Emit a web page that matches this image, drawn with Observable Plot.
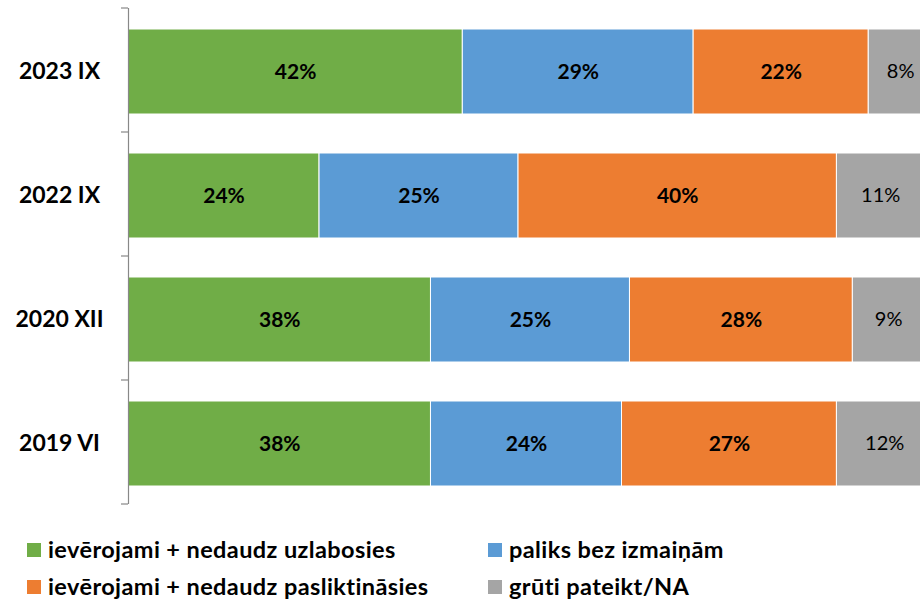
<!DOCTYPE html>
<html>
<head>
<meta charset="utf-8">
<script src="https://cdn.jsdelivr.net/npm/d3@7"></script>
<script src="https://cdn.jsdelivr.net/npm/@observablehq/plot@0.6"></script>
<style>
  body { margin: 0; background: #fff; font-family: Lato, "Open Sans", sans-serif; }
  #wrap { width: 920px; }
  #wrap svg { display: block; }
  .legend { display: grid; grid-template-columns: 461px 300px; padding: 23px 0 0 27px; row-gap: 9px; }
  .item { display: flex; align-items: center; height: 28px; line-height: 28px; font-size: 23.5px; font-weight: 700; letter-spacing: 0.4px; color: #000; white-space: nowrap; }
  .sw { width: 14px; height: 14px; margin-right: 7px; flex: none; position: relative; top: 1px; }
</style>
</head>
<body>
<div id="wrap"></div>
<script>
const periods = ["2023 IX", "2022 IX", "2020 XII", "2019 VI"];
const seriesNames = [
  "ievērojami + nedaudz uzlabosies",
  "paliks bez izmaiņām",
  "ievērojami + nedaudz pasliktināsies",
  "grūti pateikt/NA"
];
const colors = ["#70AD47", "#5B9BD5", "#ED7D31", "#A5A5A5"];
const improve = [42, 24, 38, 38];
const same = [29, 25, 25, 24];
const worse = [22, 40, 28, 27];
const hard = [8, 11, 9, 12];
const legendOrder = [0, 1, 2, 3];

const seriesValues = [improve, same, worse, hard];
const data = [];
periods.forEach((p, i) => {
  seriesValues.forEach((vals, s) => {
    data.push({period: p, series: seriesNames[s], si: s, value: vals[i]});
  });
});

const stackOpts = (extra) => Plot.stackX({x: "value", y: "period", z: "si", order: null, ...extra});

const chart = Plot.plot({
  width: 920,
  height: 512,
  marginLeft: 128,
  marginRight: 0,
  marginTop: 8,
  marginBottom: 8,
  style: {fontFamily: "Lato, 'Open Sans', sans-serif", background: "#fff"},
  x: {domain: [0, 99.5], axis: null},
  y: {domain: periods, paddingInner: 0.3145, paddingOuter: 0.15725, align: 0.54, label: null},
  color: {domain: seriesNames, range: colors},
  marks: [
    Plot.barX(data, stackOpts({fill: "series", stroke: "#fff", strokeWidth: 1, clip: true})),
    Plot.textX(data, stackOpts({
      text: d => d.si < 3 ? d.value + "%" : "",
      fontSize: 21, fontWeight: 700, fill: "#000"
    })),
    Plot.textX(data, stackOpts({
      text: d => d.si === 3 ? d.value + "%" : "",
      fontSize: 20, fontWeight: 400, fill: "#000"
    })),
    Plot.ruleX([0], {stroke: "#888", strokeWidth: 1.2}),
    Plot.axisY({tickSize: 0, tickPadding: 69, textAnchor: "middle", fontSize: 23, fontWeight: 700, fill: "#000", label: null})
  ]
});

// tick marks at category boundaries, positioned via the band scale
const ys = chart.scale("y");
const yr = ys.range;
const step = (yr[1] - yr[0]) / periods.length;
const bounds = periods.map((p, i) => yr[0] + i * step);
bounds.push(yr[1]);
const x0 = chart.scale("x").apply(0);
const g = d3.select(chart).append("g").attr("stroke", "#888").attr("stroke-width", 1.2);
bounds.forEach(b => {
  g.append("line").attr("x1", x0 - 7).attr("x2", x0).attr("y1", b).attr("y2", b);
});

const wrap = document.getElementById("wrap");
wrap.appendChild(chart);

const legend = document.createElement("div");
legend.className = "legend";
legendOrder.forEach(i => {
  const it = document.createElement("div");
  it.className = "item";
  const sw = document.createElement("span");
  sw.className = "sw";
  sw.style.background = colors[i];
  it.appendChild(sw);
  it.appendChild(document.createTextNode(seriesNames[i]));
  legend.appendChild(it);
});
wrap.appendChild(legend);
</script>
</body>
</html>
